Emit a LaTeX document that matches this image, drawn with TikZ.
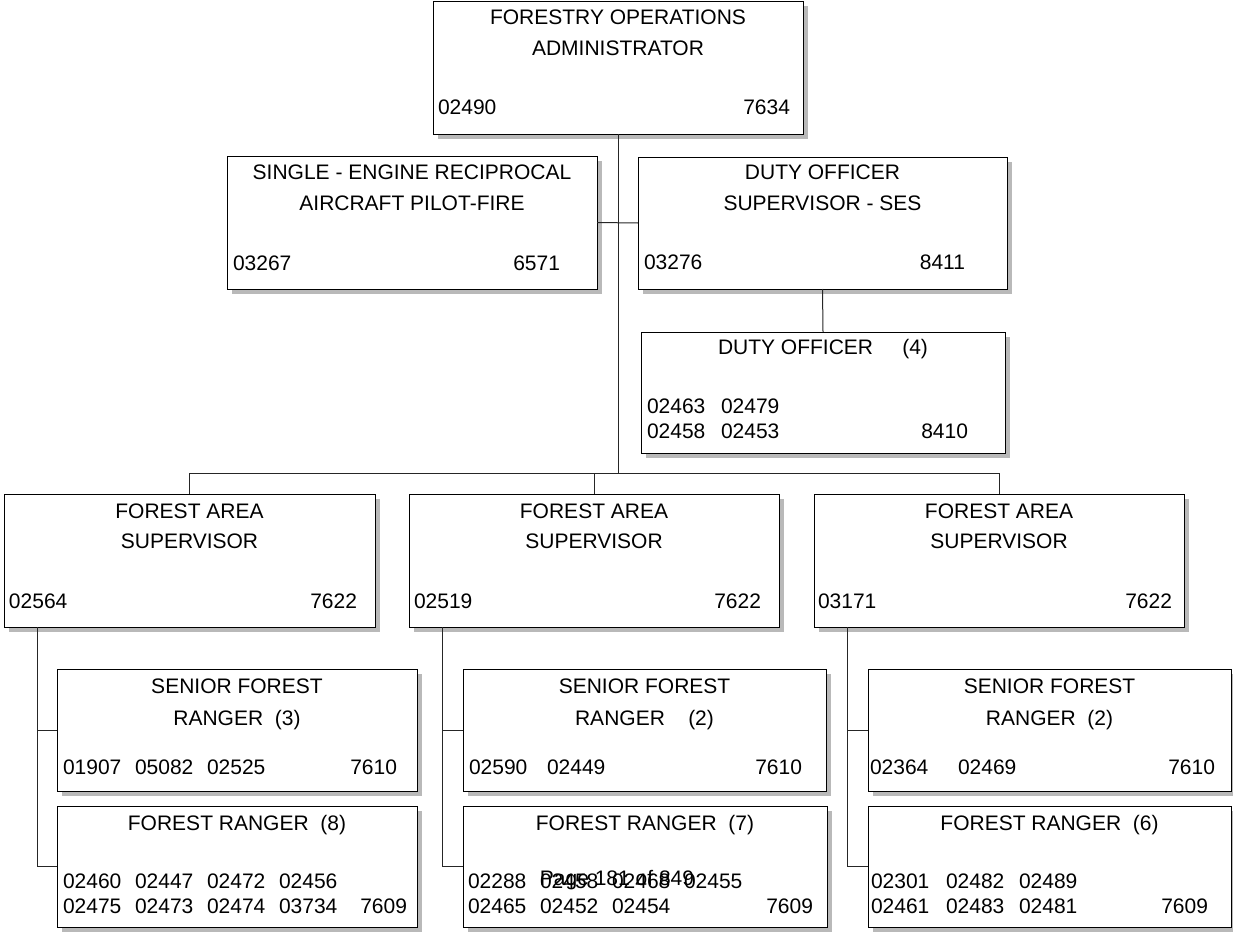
\documentclass[tikz,border=0pt]{standalone}
\usepackage{fontspec}
\setmainfont{Liberation Sans}
\usetikzlibrary{calc,shadows}

\begin{document}
\begin{tikzpicture}[x=1pt, y=-1pt,
  obox/.style={draw=black, line width=1pt, fill=white, inner sep=0pt, outer sep=0pt,
    anchor=north west,
    general shadow={fill=gray!55, shadow xshift=4.5pt, shadow yshift=-4.5pt}},
  txt/.style={inner sep=0pt, outer sep=0pt, font=\fontsize{21}{25}\selectfont},
  ttl/.style={txt, anchor=base},
  numl/.style={txt, anchor=base west},
  numr/.style={txt, anchor=base east},
  conn/.style={draw=black!85, line width=1pt}]

\useasboundingbox (0,0) rectangle (1233,931);

% ---------- boxes ----------
\node[obox, minimum width=370pt, minimum height=132pt] (adm)   at (433,2)   {};
\node[obox, minimum width=370pt, minimum height=133pt] (pilot) at (227,156) {};
\node[obox, minimum width=369pt, minimum height=132pt] (dsup)  at (638,157) {};
\node[obox, minimum width=364pt, minimum height=121pt] (do4)   at (641,332) {};
\node[obox, minimum width=371pt, minimum height=133pt] (fa1)   at (4,494)   {};
\node[obox, minimum width=370pt, minimum height=133pt] (fa2)   at (409,494) {};
\node[obox, minimum width=370pt, minimum height=133pt] (fa3)   at (814,494) {};
\node[obox, minimum width=360pt, minimum height=122pt] (sr1)   at (57,669)  {};
\node[obox, minimum width=363pt, minimum height=122pt] (sr2)   at (463,669) {};
\node[obox, minimum width=363pt, minimum height=122pt] (sr3)   at (868,669) {};
\node[obox, minimum width=360pt, minimum height=121pt] (rg1)   at (57,806)  {};
\node[obox, minimum width=364pt, minimum height=121pt] (rg2)   at (463,806) {};
\node[obox, minimum width=363pt, minimum height=121pt] (rg3)   at (868,806) {};

% ---------- connectors ----------
\coordinate (busL) at ($(fa1.north)+(0,-21)$);
\coordinate (busM) at ($(fa2.north)+(0,-21)$);
\draw[conn] (fa1.north) -- (busL) -| (fa3.north);
\draw[conn] (fa2.north) -- (busM);
\draw[conn] (adm.south) -- (adm.south |- busL);
\draw[conn] (pilot.east) -- (dsup.west);
\draw[conn] (dsup.south) -- (do4.north);

\coordinate (v1) at ($(fa1.south west)+(33,0)$);
\coordinate (v2) at ($(fa2.south west)+(33,0)$);
\coordinate (v3) at ($(fa3.south west)+(33,0)$);
\draw[conn] (v1) |- (rg1.west);  \draw[conn] (v1 |- sr1.west) -- (sr1.west);
\draw[conn] (v2) |- (rg2.west);  \draw[conn] (v2 |- sr2.west) -- (sr2.west);
\draw[conn] (v3) |- (rg3.west);  \draw[conn] (v3 |- sr3.west) -- (sr3.west);

% ---------- administrator ----------
\node[ttl]  (adm-t1) at ($(adm.north)+(0,23)$) {FORESTRY OPERATIONS};
\node[ttl]  (adm-t2) at ($(adm.north)+(0,54)$) {ADMINISTRATOR};
\node[numl] (adm-n)  at ($(adm.south west)+(5,-19)$) {02490};
\node[numr] (adm-c)  at ($(adm.south east)+(-13,-19)$) {7634};

% ---------- pilot ----------
\node[ttl]  (pilot-t1) at ($(pilot.north)+(0,23)$) {SINGLE - ENGINE RECIPROCAL};
\node[ttl]  (pilot-t2) at ($(pilot.north)+(0,54)$) {AIRCRAFT PILOT-FIRE};
\node[numl] (pilot-n)  at ($(pilot.south west)+(6,-19)$) {03267};
\node[numr] (pilot-c)  at ($(pilot.south east)+(-37,-19)$) {6571};

% ---------- duty officer supervisor ----------
\node[ttl]  (dsup-t1) at ($(dsup.north)+(0,22)$) {DUTY OFFICER};
\node[ttl]  (dsup-t2) at ($(dsup.north)+(0,53)$) {SUPERVISOR - SES};
\node[numl] (dsup-n)  at ($(dsup.south west)+(6,-20)$) {03276};
\node[numr] (dsup-c)  at ($(dsup.south east)+(-42,-20)$) {8411};

% ---------- duty officer ----------
\node[ttl]  (do4-t)  at ($(do4.north)+(0,22)$) {DUTY OFFICER~~~~~(4)};
\node[numl] (do4-a1) at ($(do4.south west)+(6,-40)$)  {02463};
\node[numl] (do4-a2) at ($(do4.south west)+(80,-40)$) {02479};
\node[numl] (do4-b1) at ($(do4.south west)+(6,-15)$)  {02458};
\node[numl] (do4-b2) at ($(do4.south west)+(80,-15)$) {02453};
\node[numr] (do4-c)  at ($(do4.south east)+(-37,-15)$) {8410};

% ---------- forest area supervisors ----------
\foreach \b/\n/\dl/\dr in {fa1/02564/5/18, fa2/02519/5/18, fa3/03171/4/12}{
  \node[ttl]  (\b-t1) at ($(\b.north)+(0,24)$) {FOREST AREA};
  \node[ttl]  (\b-t2) at ($(\b.north)+(0,54)$) {SUPERVISOR};
  \node[numl] (\b-n)  at ($(\b.south west)+(\dl,-19)$) {\n};
  \node[numr] (\b-c)  at ($(\b.south east)+(-\dr,-19)$) {7622};
}

% ---------- senior forest rangers ----------
\foreach \b in {sr1,sr2,sr3}{
  \node[ttl] (\b-t1) at ($(\b.north)+(0,24)$) {SENIOR FOREST};
}
\node[ttl] (sr1-t2) at ($(sr1.north)+(0,56)$) {RANGER~~(3)};
\node[ttl] (sr2-t2) at ($(sr2.north)+(0,56)$) {RANGER~~~~(2)};
\node[ttl] (sr3-t2) at ($(sr3.north)+(0,56)$) {RANGER~~(2)};

\node[numl] (sr1-n1) at ($(sr1.south west)+(6,-17)$)   {01907};
\node[numl] (sr1-n2) at ($(sr1.south west)+(78,-17)$)  {05082};
\node[numl] (sr1-n3) at ($(sr1.south west)+(150,-17)$) {02525};
\node[numr] (sr1-c)  at ($(sr1.south east)+(-20,-17)$) {7610};

\node[numl] (sr2-n1) at ($(sr2.south west)+(6,-17)$)   {02590};
\node[numl] (sr2-n2) at ($(sr2.south west)+(84,-17)$)  {02449};
\node[numr] (sr2-c)  at ($(sr2.south east)+(-24,-17)$) {7610};

\node[numl] (sr3-n1) at ($(sr3.south west)+(2,-17)$)   {02364};
\node[numl] (sr3-n2) at ($(sr3.south west)+(90,-17)$)  {02469};
\node[numr] (sr3-c)  at ($(sr3.south east)+(-16,-17)$) {7610};

% ---------- forest rangers ----------
\node[ttl] (rg1-t) at ($(rg1.north)+(0,24)$) {FOREST RANGER~~(8)};
\node[ttl] (rg2-t) at ($(rg2.north)+(0,24)$) {FOREST RANGER~~(7)};
\node[ttl] (rg3-t) at ($(rg3.north)+(0,24)$) {FOREST RANGER~~(6)};

\node[numl] (rg1-a1) at ($(rg1.south west)+(6,-39)$)   {02460};
\node[numl] (rg1-a2) at ($(rg1.south west)+(78,-39)$)  {02447};
\node[numl] (rg1-a3) at ($(rg1.south west)+(150,-39)$) {02472};
\node[numl] (rg1-a4) at ($(rg1.south west)+(222,-39)$) {02456};
\node[numl] (rg1-b1) at ($(rg1.south west)+(6,-14)$)   {02475};
\node[numl] (rg1-b2) at ($(rg1.south west)+(78,-14)$)  {02473};
\node[numl] (rg1-b3) at ($(rg1.south west)+(150,-14)$) {02474};
\node[numl] (rg1-b4) at ($(rg1.south west)+(222,-14)$) {03734};
\node[numr] (rg1-c)  at ($(rg1.south east)+(-10,-14)$) {7609};

\node[numl] (rg2-a1) at ($(rg2.south west)+(5,-39)$)   {02288};
\node[numl] (rg2-a2) at ($(rg2.south west)+(77,-39)$)  {02458};
\node[numl] (rg2-a3) at ($(rg2.south west)+(149,-39)$) {02468};
\node[numl] (rg2-a4) at ($(rg2.south west)+(221,-39)$) {02455};
\node[numl] (rg2-b1) at ($(rg2.south west)+(5,-14)$)   {02465};
\node[numl] (rg2-b2) at ($(rg2.south west)+(77,-14)$)  {02452};
\node[numl] (rg2-b3) at ($(rg2.south west)+(149,-14)$) {02454};
\node[numr] (rg2-c)  at ($(rg2.south east)+(-14,-14)$) {7609};

\node[numl] (rg3-a1) at ($(rg3.south west)+(3,-39)$)   {02301};
\node[numl] (rg3-a2) at ($(rg3.south west)+(78,-39)$)  {02482};
\node[numl] (rg3-a3) at ($(rg3.south west)+(151,-39)$) {02489};
\node[numl] (rg3-b1) at ($(rg3.south west)+(3,-14)$)   {02461};
\node[numl] (rg3-b2) at ($(rg3.south west)+(78,-14)$)  {02483};
\node[numl] (rg3-b3) at ($(rg3.south west)+(151,-14)$) {02481};
\node[numr] (rg3-c)  at ($(rg3.south east)+(-23,-14)$) {7609};

% ---------- page footer, printed over the last box ----------
\node[ttl] (pgno) at (617,885) {Page 181 of 849};

\end{tikzpicture}
\end{document}
